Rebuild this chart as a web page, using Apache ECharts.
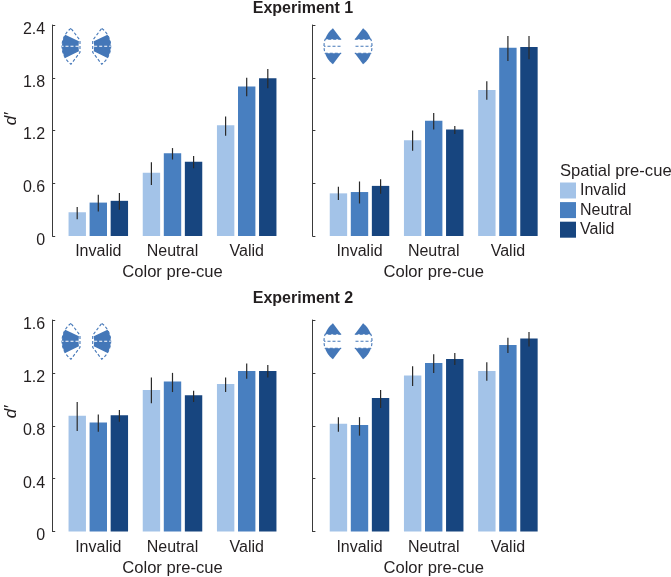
<!DOCTYPE html>
<html><head><meta charset="utf-8">
<style>html,body{margin:0;padding:0;background:#fff}#c{width:671px;height:577px}</style>
<script src="https://cdn.jsdelivr.net/npm/echarts@6/dist/echarts.min.js"></script>
</head><body><div id="c"></div>
<script>
const colorCues = ['Invalid', 'Neutral', 'Valid'];
const spatialCues = ['Invalid', 'Neutral', 'Valid'];
const swatches = ['#a3c3e8', '#487fc0', '#17457f'];

// each row is one spatial cue, across the colour cues
const e1LeftMeans = [[0.27, 0.72, 1.26], [0.38, 0.94, 1.70], [0.40, 0.845, 1.795]];
const e1LeftLow   = [[0.19, 0.58, 1.14], [0.28, 0.87, 1.59], [0.30, 0.77, 1.68]];
const e1LeftHigh  = [[0.33, 0.84, 1.36], [0.47, 1.00, 1.80], [0.49, 0.91, 1.90]];

const e1RightMeans = [[0.485, 1.09, 1.66], [0.50, 1.31, 2.14], [0.57, 1.21, 2.15]];
const e1RightLow   = [[0.41, 0.97, 1.55], [0.37, 1.21, 1.99], [0.48, 1.16, 2.01]];
const e1RightHigh  = [[0.56, 1.20, 1.76], [0.62, 1.40, 2.275], [0.645, 1.25, 2.275]];

const e2LeftMeans = [[0.875, 1.07, 1.115], [0.825, 1.135, 1.215], [0.88, 1.03, 1.215]];
const e2LeftLow   = [[0.76, 0.97, 1.055], [0.755, 1.055, 1.155], [0.83, 0.98, 1.165]];
const e2LeftHigh  = [[0.98, 1.165, 1.165], [0.885, 1.20, 1.27], [0.92, 1.065, 1.26]];

const e2RightMeans = [[0.815, 1.18, 1.215], [0.805, 1.275, 1.41], [1.01, 1.305, 1.46]];
const e2RightLow   = [[0.755, 1.10, 1.14], [0.725, 1.20, 1.35], [0.935, 1.26, 1.40]];
const e2RightHigh  = [[0.865, 1.25, 1.28], [0.865, 1.34, 1.465], [1.07, 1.35, 1.51]];

const e1Ticks = [0, 0.6, 1.2, 1.8, 2.4];
const e2Ticks = [0, 0.4, 0.8, 1.2, 1.6];

const panels = [
  {left: 61.2, top: 25, height: 211, offset: 9, means: e1LeftMeans, low: e1LeftLow, high: e1LeftHigh, ticks: e1Ticks, labels: true, icon: 'inner'},
  {left: 322.4, top: 25, height: 211, offset: 10, means: e1RightMeans, low: e1RightLow, high: e1RightHigh, ticks: e1Ticks, labels: false, icon: 'outer'},
  {left: 61.2, top: 320, height: 211.5, offset: 9, means: e2LeftMeans, low: e2LeftLow, high: e2LeftHigh, ticks: e2Ticks, labels: true, icon: 'inner'},
  {left: 322.4, top: 320, height: 211.5, offset: 10, means: e2RightMeans, low: e2RightLow, high: e2RightHigh, ticks: e2Ticks, labels: false, icon: 'outer'}
];

const FONT = '"Liberation Sans", Arial, sans-serif';
const INK = '#231f20';
const CAT_W = 74.2, BAR_W = 17.4, PITCH = 21.1;

const grid = [], xAxis = [], yAxis = [], series = [], graphic = [];

panels.forEach((p, i) => {
  grid.push({left: p.left, top: p.top, width: CAT_W * 3, height: p.height, outerBoundsMode: 'none'});
  xAxis.push({
    gridIndex: i, type: 'category', data: colorCues,
    axisLine: {show: false}, axisTick: {show: false},
    axisLabel: {fontFamily: FONT, fontSize: 16, color: INK, margin: 8},
    name: 'Color pre-cue', nameLocation: 'middle', nameGap: 28, nameMoveOverlap: false,
    nameTextStyle: {fontFamily: FONT, fontSize: 16.6, color: INK}
  });
  yAxis.push({
    gridIndex: i, type: 'value', min: 0, max: p.ticks[4], interval: p.ticks[1],
    offset: p.offset, splitLine: {show: false},
    axisLine: {show: true, lineStyle: {color: '#3a3a3a', width: 1}},
    axisTick: {show: true, inside: true, length: 3, lineStyle: {color: '#3a3a3a', width: 1}},
    axisLabel: {
      show: p.labels, fontFamily: FONT, fontSize: 16, color: INK, margin: 7,
      verticalAlign: 'top', lineHeight: 9,
      formatter: v => v === 0 ? '0' : v.toFixed(1)
    }
  });
  spatialCues.forEach((name, s) => {
    series.push({
      type: 'bar', name, xAxisIndex: i, yAxisIndex: i,
      data: p.means[s], barWidth: BAR_W, barGap: '21%',
      itemStyle: {color: swatches[s]}, silent: true
    });
  });
  spatialCues.forEach((name, s) => {
    series.push({
      type: 'custom', xAxisIndex: i, yAxisIndex: i, z: 5, silent: true,
      data: colorCues.map((c, k) => [k, p.low[s][k], p.high[s][k]]),
      encode: {x: 0, y: [1, 2]},
      renderItem: (params, api) => {
        const a = api.coord([api.value(0), api.value(1)]);
        const b = api.coord([api.value(0), api.value(2)]);
        const x = a[0] + (s - 1) * PITCH;
        return {type: 'line', shape: {x1: x, y1: a[1], x2: x, y2: b[1]},
                style: {stroke: '#2a2a2a', lineWidth: 1.2}};
      }
    });
  });

  // cue glyphs
  const cy = p.top + 21.3;
  const R = 22.5, D = Math.PI / 180;
  const blue = '#4477b8';
  [[p.labels ? 84.5 : 346.5, -1], [p.labels ? 88.2 : 349.5, 1]].forEach(([cx, dir]) => {
    const pt = (r, a) => [cx + dir * r * Math.cos(a * D), cy + r * Math.sin(a * D)];
    const arc = (a0, a1) => {
      const out = [];
      for (let k = 0; k <= 16; k++) out.push(pt(R, a0 + (a1 - a0) * k / 16));
      return out;
    };
    const solid = {fill: blue};
    const dash = {fill: 'none', stroke: blue, lineWidth: 1.1, lineDash: [3, 2]};
    const poly = (points, style) => graphic.push({type: 'polygon', silent: true, shape: {points}, style});
    const open = (points) => graphic.push({type: 'polyline', silent: true, shape: {points}, style: dash});
    if (p.icon === 'inner') {
      poly([...arc(-53, 53), pt(7.5, 53), pt(7.5, -53)], dash);
      poly([...arc(-31, 31), pt(7.5, 42), pt(6, 0), pt(7.5, -42)], solid);
    } else {
      const a = Math.asin(7 / R) / D;
      open([pt(8.8, -53), ...arc(-a, a), pt(8.8, 53)]);
      poly([...arc(a, 53), pt(8.8, 53)], solid);
      poly([...arc(-a, -53), pt(8.8, -53)], solid);
    }
    graphic.push({type: 'line', silent: true,
      shape: {x1: cx + dir * 6, y1: cy, x2: cx + dir * R, y2: cy},
      style: {stroke: p.icon === 'inner' ? '#fff' : blue, lineWidth: 1.1, lineDash: [3, 2]}});
  });
});

// y-axis name
[[11, 119], [11, 412]].forEach(([x, y]) => graphic.push({
  type: 'text', x, y, rotation: Math.PI / 2, silent: true,
  style: {text: 'd′', fontFamily: FONT, fontStyle: 'italic', fontSize: 17, fill: INK, align: 'center', verticalAlign: 'middle'}
}));

// legend heading
graphic.push({
  type: 'text', x: 560, y: 163, silent: true,
  style: {text: 'Spatial pre-cue', fontFamily: FONT, fontSize: 16.6, fill: INK}
});

const chart = echarts.init(document.getElementById('c'), null, {renderer: 'canvas'});
chart.setOption({
  animation: false,
  backgroundColor: '#fff',
  title: [
    {text: 'Experiment 1', left: 298, top: -4, textAlign: 'center', textStyle: {fontFamily: FONT, fontSize: 16, fontWeight: 'bold', color: INK}},
    {text: 'Experiment 2', left: 298, top: 286, textAlign: 'center', textStyle: {fontFamily: FONT, fontSize: 16, fontWeight: 'bold', color: INK}}
  ],
  legend: {
    orient: 'vertical', left: 560, top: 182.5, padding: 0,
    itemWidth: 16, itemHeight: 16, itemGap: 3.6, selectedMode: false,
    icon: 'rect', data: spatialCues,
    textStyle: {fontFamily: FONT, fontSize: 16, color: INK, padding: [2, 0, 0, -1]}
  },
  grid, xAxis, yAxis, series, graphic
});
</script></body></html>
